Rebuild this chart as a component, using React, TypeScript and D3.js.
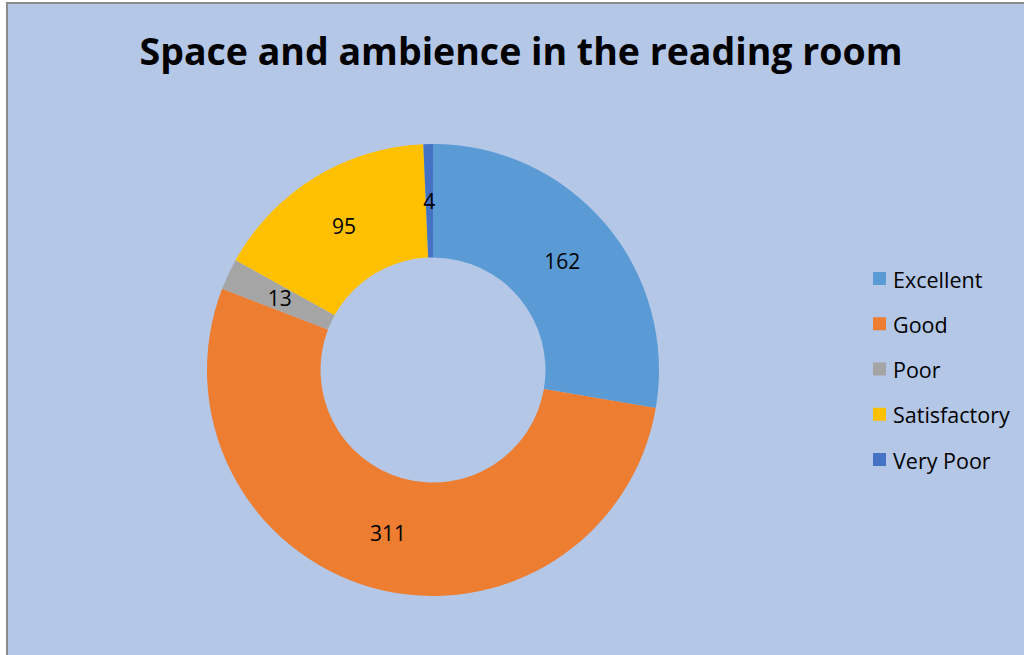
import React from "react";
import * as d3 from "d3";

const categories = ["Excellent", "Good", "Poor", "Satisfactory", "Very Poor"];
const values = [162, 311, 13, 95, 4];
const colors = ["#5B9BD5", "#ED7D31", "#A5A5A5", "#FFC000", "#4472C4"];
const title = "Space and ambience in the reading room";

const W = 1024;
const H = 655;
const FONT = "'Open Sans', 'Noto Sans', sans-serif";

export default function App() {
  const cx = 433;
  const cy = 370;
  const outerR = 226;
  const innerR = 112.5;
  const pie = d3.pie<number>().sort(null).value((d) => d)(values);
  const arc = d3.arc<d3.PieArcDatum<number>>().innerRadius(innerR).outerRadius(outerR);
  const legendY = d3.scalePoint<string>().domain(categories).range([279, 460]);

  return (
    <svg
      width={W}
      height={H}
      style={{ position: "absolute", left: 0, top: 0, display: "block" }}
    >
      <rect x={0} y={0} width={W} height={H} fill="#ffffff" />
      <rect x={7} y={3} width={W} height={H} fill="#B4C7E7" stroke="#8c8c8c" strokeWidth={2} />
      <text
        x={521}
        y={65}
        textAnchor="middle"
        fontFamily={FONT}
        fontWeight={700}
        fontSize={37}
        textLength={763}
        lengthAdjust="spacingAndGlyphs"
        fill="#000"
      >
        {title}
      </text>
      <g transform={`translate(${cx},${cy})`}>
        {pie.map((d, i) => (
          <path key={categories[i]} d={arc(d) || ""} fill={colors[i]} />
        ))}
        {pie.map((d, i) => {
          const [x, y] = arc.centroid(d);
          return (
            <text
              key={"l" + i}
              x={x}
              y={y}
              textAnchor="middle"
              dominantBaseline="central"
              fontFamily={FONT}
              fontSize={21}
              fill="#000"
            >
              {values[i]}
            </text>
          );
        })}
      </g>
      <g>
        {categories.map((c, i) => (
          <g key={c} transform={`translate(873,${legendY(c)})`}>
            <rect x={0} y={-7} width={13} height={13} fill={colors[i]} />
            <text
              x={20}
              y={0}
              dominantBaseline="central"
              fontFamily={FONT}
              fontSize={21.5}
              fill="#000"
            >
              {c}
            </text>
          </g>
        ))}
      </g>
    </svg>
  );
}
